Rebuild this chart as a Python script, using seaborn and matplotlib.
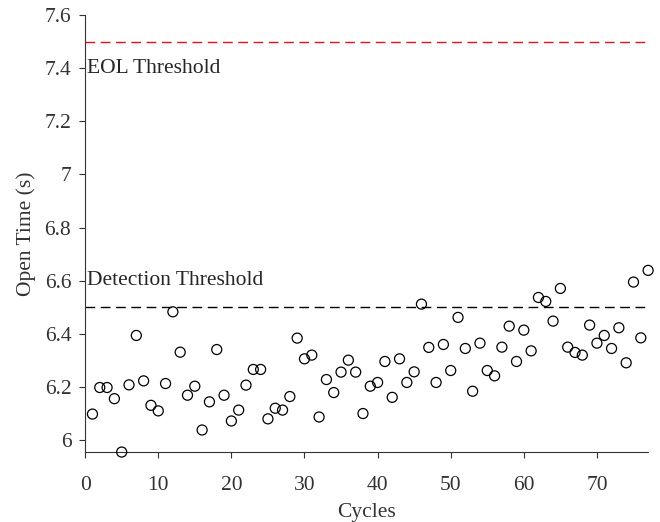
import numpy as np
import pandas as pd
import matplotlib
matplotlib.use("Agg")
import matplotlib.pyplot as plt
from matplotlib.ticker import FuncFormatter
import seaborn as sns

cycles = list(range(1, 78))
open_time = [
    6.098, 6.198, 6.198, 6.156, 5.955, 6.208, 6.394, 6.223, 6.131, 6.110,
    6.213, 6.483, 6.331, 6.169, 6.203, 6.038, 6.144, 6.341, 6.169, 6.072,
    6.113, 6.207, 6.266, 6.266, 6.080, 6.120, 6.113, 6.164, 6.384, 6.306,
    6.320, 6.087, 6.228, 6.179, 6.256, 6.301, 6.256, 6.100, 6.203, 6.217,
    6.296, 6.161, 6.306, 6.217, 6.257, 6.512, 6.349, 6.217, 6.360, 6.262,
    6.462, 6.345, 6.184, 6.365, 6.262, 6.242, 6.350, 6.429, 6.296, 6.414,
    6.336, 6.537, 6.522, 6.448, 6.571, 6.350, 6.330, 6.320, 6.433, 6.365,
    6.394, 6.345, 6.423, 6.291, 6.595, 6.385, 6.639,
]
eol_threshold = 7.5
detection_threshold = 6.5
y_ticks = [6, 6.2, 6.4, 6.6, 6.8, 7, 7.2, 7.4, 7.6]
x_ticks = [0, 10, 20, 30, 40, 50, 60, 70]

df = pd.DataFrame({"Cycles": cycles, "Open Time (s)": open_time})

sns.set_style("ticks")
plt.rcParams["font.family"] = ["Liberation Serif", "DejaVu Serif"]

fig = plt.figure(figsize=(6.6, 5.22), dpi=100)
ax = fig.add_axes([0.129, 0.134, 0.853, 0.837])

sns.scatterplot(data=df, x="Cycles", y="Open Time (s)", ax=ax,
                marker="o", s=52, facecolor="none",
                edgecolor="black", linewidth=0.9, zorder=3)
for c in ax.collections:
    c.set_clip_on(False)

ax.plot([0, 77], [eol_threshold] * 2, color="#e0141e", lw=1.0,
        dashes=(7, 4))
ax.plot([0, 77], [detection_threshold] * 2, color="black", lw=1.0,
        dashes=(7, 4))
ax.text(0.3, 7.4, "EOL Threshold", fontsize=15.5, va="center", ha="left")
ax.text(0.3, 6.6, "Detection Threshold", fontsize=15.5, va="center", ha="left")

ax.set_xlim(0, 77)
ax.set_ylim(5.955, 7.6)
ax.set_xticks(x_ticks)
ax.set_yticks(y_ticks)
ax.yaxis.set_major_formatter(FuncFormatter(lambda v, p: f"{v:g}"))
ax.tick_params(labelsize=15.5, colors="#333333", direction="out",
               length=4, width=0.8, pad=6)
ax.tick_params(axis="x", pad=13)
ax.set_xlabel("Cycles", fontsize=15.5, color="#333333", labelpad=6)
ax.set_ylabel("Open Time (s)", fontsize=15.5, color="#333333", labelpad=6)
sns.despine(ax=ax)
for s in ["left", "bottom"]:
    ax.spines[s].set_color("#333333")
    ax.spines[s].set_linewidth(0.8)

fig.savefig("out.png", dpi=100)
